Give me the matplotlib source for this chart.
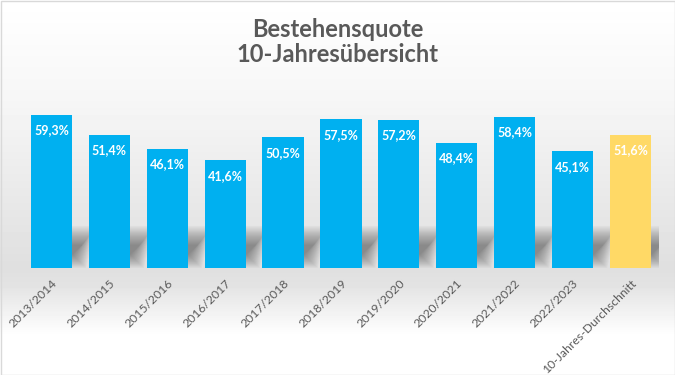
"""Bestehensquote – 10-Jahresübersicht (bar chart with soft floor shadow)."""
import numpy as np
import matplotlib
matplotlib.use("Agg")
import matplotlib.pyplot as plt
from matplotlib.patches import Polygon, Rectangle

# ---- data -------------------------------------------------------------
labels = ["2013/2014", "2014/2015", "2015/2016", "2016/2017", "2017/2018",
          "2018/2019", "2019/2020", "2020/2021", "2021/2022", "2022/2023",
          "10-Jahres-Durchschnitt"]
values = [59.3, 51.4, 46.1, 41.6, 50.5, 57.5, 57.2, 48.4, 58.4, 45.1, 51.6]
value_text = ["59,3%", "51,4%", "46,1%", "41,6%", "50,5%", "57,5%", "57,2%",
              "48,4%", "58,4%", "45,1%", "51,6%"]

BLUE = "#00B0F0"
GOLD = "#FFD966"
GREY = "#595959"
colors = [BLUE] * (len(values) - 1) + [GOLD]

plt.rcParams["font.family"] = ["Lato", "DejaVu Sans"]

W, H = 675, 375
fig = plt.figure(figsize=(W / 100, H / 100), dpi=100)

# ---- background gradient (white -> light grey at baseline -> white) ---
bg = fig.add_axes([0, 0, 1, 1], zorder=-2)
ys = np.arange(H)
shade = np.interp(ys, [0, 100, 268, 285, 335, H], [1.0, 0.965, 0.875, 0.89, 1.0, 1.0])
grad = np.repeat(shade[:, None], 2, axis=1)
bg.imshow(grad, cmap="gray", vmin=0, vmax=1, aspect="auto",
          extent=[0, 1, 0, 1], origin="upper")
bg.set_axis_off()

# ---- main axes --------------------------------------------------------
left_px, right_px, base_px, top_px = 22.5, 659.4, 268, 87
ax = fig.add_axes([left_px / W, (H - base_px) / H,
                   (right_px - left_px) / W, (base_px - top_px) / H])
ax.set_facecolor("none")
x = np.arange(len(values))
ax.set_xlim(-0.5, len(values) - 0.5)
ax.set_ylim(0, 70)

bw = 0.71
px_x = (right_px - left_px) / len(values)   # pixels per x unit
px_y = (base_px - top_px) / 70              # pixels per y unit

# soft perspective shadow behind each bar (stacked polygons = blur)
sh_h = 42 / px_y
n_layers = 16
for xi in x:
    for k in range(n_layers):
        d = k * 0.9
        dx, dy = d / px_x, d / px_y
        x0 = xi - bw / 2
        x1 = xi + bw / 2
        pts = [(x0 + dx, dy),
               (x1 + 14 / px_x - dx, dy),
               (x1 + 24 / px_x - dx, sh_h - 1.4 * dy),
               (x0 + 12 / px_x + dx, sh_h - 1.4 * dy)]
        ax.add_patch(Polygon(pts, closed=True, facecolor="black",
                             edgecolor="none", alpha=0.028, zorder=1))

ax.bar(x, values, width=bw, color=colors, zorder=3)

for xi, v, t in zip(x, values, value_text):
    ax.annotate(t, (xi, v), xytext=(0, -11), textcoords="offset points",
                ha="center", va="center", color="white", fontsize=9,
                fontweight="bold", zorder=4)

ax.set_xticks(x)
ax.set_xticklabels(labels, rotation=45, ha="right", rotation_mode="anchor",
                   fontsize=8.8, color=GREY)
ax.tick_params(axis="x", length=0, pad=7)
ax.set_yticks([])
for s in ax.spines.values():
    s.set_visible(False)

fig.text(0.5, 1 - 42 / H, "Bestehensquote\n10-Jahresübersicht", ha="center",
         va="center", fontsize=17, fontweight="bold", color=GREY,
         linespacing=1.12)

# thin chart border
fig.patches.append(Rectangle((0.5 / W, 0.5 / H), 1 - 1 / W, 1 - 1 / H,
                             transform=fig.transFigure, fill=False,
                             edgecolor="#D9D9D9", linewidth=1))

plt.savefig("out.png", dpi=100)
print("Saved out.png")
